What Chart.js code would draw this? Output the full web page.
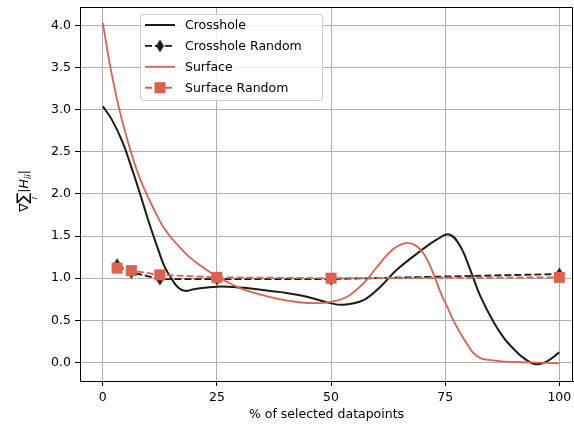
<!DOCTYPE html>
<html>
<head>
<meta charset="utf-8">
<script src="https://cdn.jsdelivr.net/npm/chart.js@4/dist/chart.umd.min.js"></script>
<style>
  html, body { margin: 0; padding: 0; background: #fff; }
  #wrap { width: 574px; height: 430px; }
</style>
</head>
<body>
<div id="wrap"><canvas id="chart" width="574" height="430"></canvas></div>
<script>
const xTicks = [0, 25, 50, 75, 100];
const yTicks = [0, 0.5, 1, 1.5, 2, 2.5, 3, 3.5, 4];

const crossholeX = [0, 2, 4.3, 6, 8, 10, 12, 13.5, 15, 16.5, 18, 20, 25, 30, 35, 38.9, 44, 49.8, 52.7, 57.1, 60.8, 64.4, 69.5, 73.2, 75.9, 78.3, 80.5, 82.6, 85.6, 88, 90, 92, 94.7, 97.2, 100];
const crossholeY = [3.04, 2.88, 2.62, 2.36, 2.03, 1.68, 1.36, 1.14, 1.0, 0.89, 0.85, 0.87, 0.90, 0.89, 0.86, 0.835, 0.79, 0.705, 0.685, 0.74, 0.90, 1.10, 1.32, 1.46, 1.52, 1.38, 1.10, 0.80, 0.48, 0.28, 0.16, 0.06, -0.02, 0.01, 0.12];

const surfaceX = [0, 1.5, 3, 4, 5.3, 6.5, 8, 9.5, 11, 13, 15, 17, 19, 21.4, 23, 25, 27.5, 30.2, 35, 38.9, 43, 46.9, 50, 53.5, 57.1, 60, 62.5, 64.5, 66.6, 68.5, 70.2, 71.5, 72.8, 74, 75.4, 76.8, 78.3, 79.8, 81.2, 82.8, 84.5, 88, 94, 100];
const surfaceY = [4.03, 3.55, 3.15, 2.92, 2.66, 2.44, 2.2, 2.01, 1.84, 1.63, 1.48, 1.36, 1.25, 1.15, 1.09, 1.02, 0.95, 0.88, 0.80, 0.75, 0.715, 0.705, 0.72, 0.78, 0.94, 1.13, 1.29, 1.38, 1.42, 1.39, 1.30, 1.17, 1.0, 0.83, 0.665, 0.50, 0.35, 0.22, 0.11, 0.05, 0.03, 0.01, 0.0, -0.01];

const randomX = [3.125, 6.25, 12.5, 25, 50, 100];
const crossholeRandom = [1.16, 1.07, 0.99, 0.99, 0.99, 1.05];
const surfaceRandom = [1.12, 1.09, 1.04, 1.01, 1.00, 1.01];

const dark = "#1c1c0e";
const red = "#de604e";

const toPts = (xs, ys) => xs.map((x, i) => ({ x: x, y: ys[i] }));

// thin diamond marker, like matplotlib 'd'
const diamond = document.createElement("canvas");
diamond.width = 9;
diamond.height = 14;
const dctx = diamond.getContext("2d");
dctx.fillStyle = dark;
dctx.beginPath();
dctx.moveTo(4.5, 0.5);
dctx.lineTo(8.5, 7);
dctx.lineTo(4.5, 13.5);
dctx.lineTo(0.5, 7);
dctx.closePath();
dctx.fill();

const FONT = "DejaVu Sans";

const extras = {
  id: "extras",
  afterDraw(chart) {
    const ctx = chart.ctx;
    const a = chart.chartArea;
    ctx.save();

    // top and right spines
    ctx.strokeStyle = "#000";
    ctx.lineWidth = 1;
    ctx.beginPath();
    ctx.moveTo(a.left, a.top + 0.5);
    ctx.lineTo(a.right - 0.5, a.top + 0.5);
    ctx.lineTo(a.right - 0.5, a.bottom);
    ctx.stroke();

    // legend
    ctx.fillStyle = "rgba(255,255,255,0.8)";
    ctx.strokeStyle = "#cccccc";
    ctx.beginPath();
    ctx.roundRect(140.5, 14.5, 182, 86, 3);
    ctx.fill();
    ctx.stroke();
    chart.data.datasets.forEach((ds, i) => {
      const y = 25 + i * 20.9;
      ctx.strokeStyle = ds.borderColor;
      ctx.lineWidth = ds.borderWidth;
      ctx.setLineDash(ds.borderDash || []);
      ctx.beginPath();
      ctx.moveTo(145, y);
      ctx.lineTo(175, y);
      ctx.stroke();
      ctx.setLineDash([]);
      if (ds.legendMarker === "diamond") {
        ctx.drawImage(diamond, 160 - 4.5, y - 7);
      } else if (ds.legendMarker === "square") {
        ctx.fillStyle = red;
        ctx.fillRect(160 - 5.5, y - 5.5, 11, 11);
      }
      ctx.fillStyle = "#000";
      ctx.font = "12.5px " + FONT;
      ctx.textBaseline = "middle";
      ctx.textAlign = "left";
      ctx.fillText(ds.label, 185, y + 1);
    });

    // x title
    ctx.fillStyle = "#000";
    ctx.font = "12.5px " + FONT;
    ctx.textAlign = "center";
    ctx.textBaseline = "middle";
    ctx.fillText("% of selected datapoints", (a.left + a.right) / 2, 415);

    // y title: nabla sum_i |H_ii|
    ctx.translate(23, 191);
    ctx.rotate(-Math.PI / 2);
    ctx.textAlign = "left";
    ctx.textBaseline = "alphabetic";
    const fMain = "12.5px " + FONT;
    const fBig = "16px " + FONT;
    const fIt = "italic 12.5px " + FONT;
    const fSub = "italic 8.5px " + FONT;
    const parts = [
      ["\u2207", fMain, 0],
      ["\u2211", fBig, 1],
      ["|", fMain, 0],
      ["H", fIt, 0],
      ["ii", fSub, 3],
      ["|", fMain, 0]
    ];
    let total = 0;
    const widths = parts.map(p => { ctx.font = p[1]; const w = ctx.measureText(p[0]).width; total += w; return w; });
    let x = -total / 2;
    parts.forEach((p, i) => {
      ctx.font = p[1];
      ctx.fillText(p[0], x, 5 + (p[2] === 3 ? 3 : 0));
      if (p[2] === 1) {
        ctx.font = fSub;
        const wi = ctx.measureText("i").width;
        ctx.fillText("i", x + widths[i] / 2 - wi / 2, 14);
      }
      x += widths[i];
    });
    ctx.restore();
  }
};

Chart.defaults.color = "#000";
Chart.defaults.font.family = FONT;
Chart.defaults.font.size = 12.5;

new Chart(document.getElementById("chart"), {
  type: "line",
  data: {
    datasets: [
      {
        label: "Crosshole",
        data: toPts(crossholeX, crossholeY),
        borderColor: dark,
        borderWidth: 2,
        pointRadius: 0,
        tension: 0.4,
        order: 4
      },
      {
        label: "Crosshole Random",
        data: toPts(randomX, crossholeRandom),
        borderColor: dark,
        borderWidth: 1.9,
        borderDash: [7, 3],
        pointStyle: diamond,
        pointRadius: 6,
        pointBackgroundColor: dark,
        legendMarker: "diamond",
        order: 3
      },
      {
        label: "Surface",
        data: toPts(surfaceX, surfaceY),
        borderColor: red,
        borderWidth: 1.8,
        pointRadius: 0,
        tension: 0.4,
        order: 2
      },
      {
        label: "Surface Random",
        data: toPts(randomX, surfaceRandom),
        borderColor: red,
        borderWidth: 1.9,
        borderDash: [7, 3],
        pointStyle: "rect",
        pointRadius: 7.8,
        pointBackgroundColor: red,
        pointBorderColor: red,
        pointBorderWidth: 0,
        legendMarker: "square",
        order: 1
      }
    ]
  },
  options: {
    responsive: false,
    animation: false,
    devicePixelRatio: 1,
    layout: { autoPadding: false, padding: { top: 7, right: 1, left: 0, bottom: 0 } },
    plugins: { legend: { display: false }, tooltip: { enabled: false } },
    scales: {
      x: {
        type: "linear",
        min: -5,
        max: 103,
        afterBuildTicks: s => { s.ticks = xTicks.map(v => ({ value: v })); },
        afterFit: s => {
          s.height = 49;
          s.paddingLeft = 0;
          s.paddingRight = 0;
        },
        ticks: { padding: 4, maxRotation: 0, callback: v => String(v) },
        grid: { color: "#b0b0b0", lineWidth: 1, tickLength: 5, tickColor: "#000" },
        border: { display: true, color: "#000", width: 1 }
      },
      y: {
        type: "linear",
        min: -0.22,
        max: 4.22,
        afterBuildTicks: s => { s.ticks = yTicks.map(v => ({ value: v })); },
        afterFit: s => {
          s.width = 80;
          s.paddingTop = 0;
          s.paddingBottom = 0;
        },
        ticks: { padding: 4, callback: v => v.toFixed(1) },
        grid: { color: "#b0b0b0", lineWidth: 1, tickLength: 5, tickColor: "#000" },
        border: { display: true, color: "#000", width: 1 }
      }
    }
  },
  plugins: [extras]
});
</script>
</body>
</html>
